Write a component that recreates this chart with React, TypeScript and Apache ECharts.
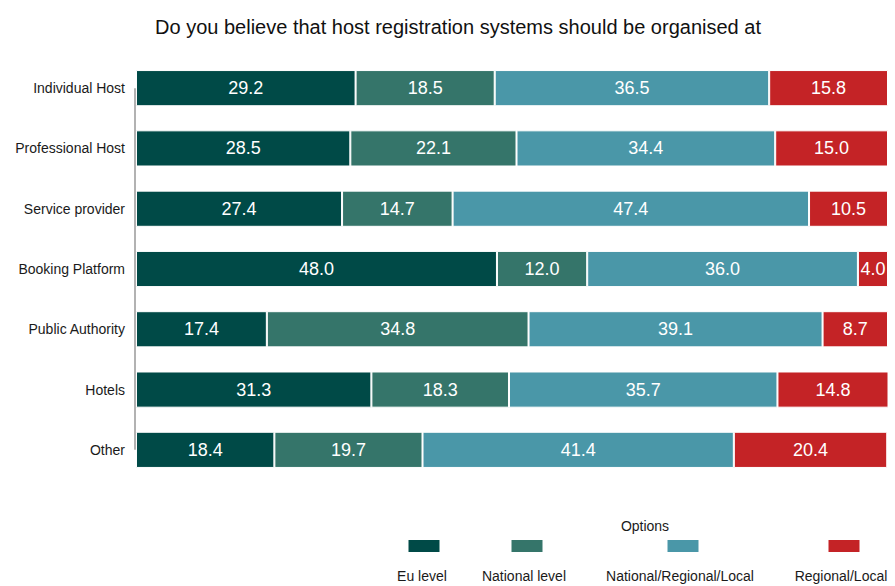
import React, { useEffect, useRef } from "react";
import * as echarts from "echarts";

const categories = [
  "Individual Host",
  "Professional Host",
  "Service provider",
  "Booking Platform",
  "Public Authority",
  "Hotels",
  "Other",
];
const seriesNames = ["Eu level", "National level", "National/Regional/Local", "Regional/Local"];
const seriesColors = ["#004A47", "#35756A", "#4A97A8", "#C42326"];
const euLevel = [29.2, 28.5, 27.4, 48.0, 17.4, 31.3, 18.4];
const nationalLevel = [18.5, 22.1, 14.7, 12.0, 34.8, 18.3, 19.7];
const nationalRegionalLocal = [36.5, 34.4, 47.4, 36.0, 39.1, 35.7, 41.4];
const regionalLocal = [15.8, 15.0, 10.5, 4.0, 8.7, 14.8, 20.4];
const seriesValues = [euLevel, nationalLevel, nationalRegionalLocal, regionalLocal];
const legendIconCenters = [424, 527, 683, 844];
const legendTextCenters = [422, 524, 680, 841];

const FONT = "'Liberation Sans', Arial, sans-serif";

export default function App() {
  const ref = useRef<HTMLDivElement>(null);
  useEffect(() => {
    document.body.style.margin = "0";
    document.body.style.overflow = "hidden";
    if (!ref.current) return;
    const chart = echarts.init(ref.current, null, { renderer: "svg" });
    const legendGraphics: any[] = [
      {
        type: "text",
        x: 645,
        y: 526,
        style: {
          text: "Options",
          fill: "#1a1a1a",
          font: `14px ${FONT}`,
          align: "center",
          verticalAlign: "middle",
        },
      },
    ];
    seriesNames.forEach((n, i) => {
      legendGraphics.push({
        type: "rect",
        shape: { x: legendIconCenters[i] - 15.5, y: 540, width: 31, height: 12 },
        style: { fill: seriesColors[i] },
      });
      legendGraphics.push({
        type: "text",
        x: legendTextCenters[i],
        y: 576,
        style: {
          text: n,
          fill: "#1a1a1a",
          font: `14px ${FONT}`,
          align: "center",
          verticalAlign: "middle",
        },
      });
    });
    chart.setOption({
      animation: false,
      textStyle: { fontFamily: FONT },
      title: {
        text: "Do you believe that host registration systems should be organised at",
        left: 453,
        textAlign: "center",
        top: 12,
        textStyle: { fontSize: 20, fontWeight: "normal", color: "#111", fontFamily: FONT },
      },
      grid: { left: 136, right: 7, top: 58, bottom: 106, outerBoundsMode: "none" },
      xAxis: {
        type: "value",
        min: 0,
        max: 100,
        show: false,
      },
      yAxis: {
        type: "category",
        data: categories,
        inverse: true,
        axisLine: { show: false },
        axisTick: { show: false },
        axisLabel: { fontSize: 14, color: "#1a1a1a", margin: 11, fontFamily: FONT },
      },
      series: seriesNames.map((n, i) => ({
        name: n,
        type: "bar",
        stack: "total",
        barWidth: "60%",
        data: seriesValues[i],
        itemStyle: { color: seriesColors[i], borderColor: "#fff", borderWidth: 1 },
        label: {
          show: true,
          position: "inside",
          color: "#fff",
          fontSize: 18,
          fontFamily: FONT,
          formatter: (p: any) => Number(p.value).toFixed(1),
        },
      })),
      graphic: legendGraphics,
    });
    const top = chart.convertToPixel({ yAxisIndex: 0 }, categories[0]) as number;
    const bottom = chart.convertToPixel({ yAxisIndex: 0 }, categories[categories.length - 1]) as number;
    const x0 = chart.convertToPixel({ xAxisIndex: 0 }, 0) as number;
    chart.setOption({
      graphic: [
        ...legendGraphics,
        {
          type: "line",
          shape: { x1: x0 - 1, y1: top, x2: x0 - 1, y2: bottom },
          style: { stroke: "#999", lineWidth: 1.5 },
        },
      ],
    });
    return () => chart.dispose();
  }, []);
  return <div ref={ref} style={{ width: 895, height: 586 }} />;
}
